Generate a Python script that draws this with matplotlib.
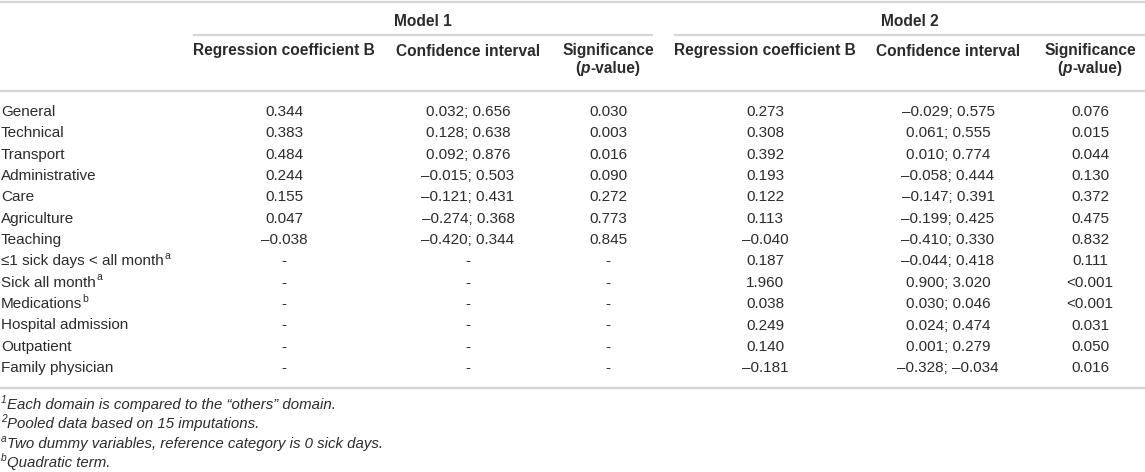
import matplotlib
matplotlib.use("Agg")
import matplotlib.pyplot as plt

# ---------------- data ----------------
row_labels = ["General", "Technical", "Transport", "Administrative", "Care",
              "Agriculture", "Teaching", "\u22641 sick days < all month",
              "Sick all month", "Medications", "Hospital admission",
              "Outpatient", "Family physician"]
row_sups = ["", "", "", "", "", "", "", "a", "a", "b", "", "", ""]

m1_b = ["0.344", "0.383", "0.484", "0.244", "0.155", "0.047", "\u20130.038",
        "-", "-", "-", "-", "-", "-"]
m1_ci = ["0.032; 0.656", "0.128; 0.638", "0.092; 0.876", "\u20130.015; 0.503",
         "\u20130.121; 0.431", "\u20130.274; 0.368", "\u20130.420; 0.344",
         "-", "-", "-", "-", "-", "-"]
m1_p = ["0.030", "0.003", "0.016", "0.090", "0.272", "0.773", "0.845",
        "-", "-", "-", "-", "-", "-"]

m2_b = ["0.273", "0.308", "0.392", "0.193", "0.122", "0.113", "\u20130.040",
        "0.187", "1.960", "0.038", "0.249", "0.140", "\u20130.181"]
m2_ci = ["\u20130.029; 0.575", "0.061; 0.555", "0.010; 0.774", "\u20130.058; 0.444",
         "\u20130.147; 0.391", "\u20130.199; 0.425", "\u20130.410; 0.330",
         "\u20130.044; 0.418", "0.900; 3.020", "0.030; 0.046", "0.024; 0.474",
         "0.001; 0.279", "\u20130.328; \u20130.034"]
m2_p = ["0.076", "0.015", "0.044", "0.130", "0.372", "0.475", "0.832",
        "0.111", "<0.001", "<0.001", "0.031", "0.050", "0.016"]

model_titles = ["Model 1", "Model 2"]
col_headers = ["Regression coefficient B", "Confidence interval", "Significance"]

footnote_sups = ["1", "2", "a", "b"]
footnotes = ["Each domain is compared to the \u201cothers\u201d domain.",
             "Pooled data based on 15 imputations.",
             "Two dummy variables, reference category is 0 sick days.",
             "Quadratic term."]

# ---------------- layout ----------------
W, H = 1145, 472
FAM = ["Liberation Sans", "DejaVu Sans"]
TXT = "#2b2b2b"
LINE = "#d4d4d4"
FS = 11.0
FS_H = 11.2
FS_F = 10.8

fig = plt.figure(figsize=(W / 100, H / 100), dpi=100)
ax = fig.add_axes([0, 0, 1, 1])
ax.set_xlim(0, W)
ax.set_ylim(H, 0)
ax.axis("off")
renderer = fig.canvas.get_renderer()
inv = ax.transData.inverted()


def width_data(t):
    bb = t.get_window_extent(renderer)
    (x0, _), (x1, _) = inv.transform([(bb.x0, 0), (bb.x1, 0)])
    return x1 - x0


def hline(x0, x1, y, lw=1.6):
    ax.plot([x0, x1], [y, y], color=LINE, lw=lw, solid_capstyle="butt")


def with_sup(x, y, main, sup, size, style="normal"):
    t = ax.text(x, y, main, ha="left", va="center", fontsize=size,
                family=FAM, color=TXT, style=style)
    if sup:
        w = width_data(t)
        ax.text(x + w + 0.5, y - 5.5, sup, ha="left", va="center",
                fontsize=size * 0.68, family=FAM, color=TXT, style=style)


# rules
hline(0, W, 1.5)
hline(193, 653, 34.5)
hline(674, W, 34.5)
hline(0, W, 91)
hline(0, W, 387.5)

# model titles
model_spans = [(193, 653), (674, W)]
for title, (a, b) in zip(model_titles, model_spans):
    ax.text((a + b) / 2, 21, title, ha="center", va="center", fontsize=FS_H,
            family=FAM, color=TXT, weight="bold")

col_x = [[284, 468, 608], [765, 948, 1090]]
for xs in col_x:
    for hdr, cx in zip(col_headers, xs):
        ax.text(cx, 51, hdr, ha="center", va="center", fontsize=FS_H,
                family=FAM, color=TXT, weight="bold")
    # "(p-value)" with italic p
    cx = xs[2]
    parts = [("(", "normal"), ("p", "italic"), ("-value)", "normal")]
    tmp = [ax.text(0, -100, s, fontsize=FS_H, family=FAM, weight="bold",
                   style=st) for s, st in parts]
    ws = [width_data(t) for t in tmp]
    for t in tmp:
        t.remove()
    x = cx - sum(ws) / 2
    for (s, st), w in zip(parts, ws):
        ax.text(x, 68, s, ha="left", va="center", fontsize=FS_H, family=FAM,
                color=TXT, weight="bold", style=st)
        x += w

# body
y0, dy = 112, 21.35
cols = [m1_b, m1_ci, m1_p, m2_b, m2_ci, m2_p]
xs_all = col_x[0] + col_x[1]
for i, lab in enumerate(row_labels):
    y = y0 + i * dy
    with_sup(1, y, lab, row_sups[i], FS)
    for col, cx in zip(cols, xs_all):
        ax.text(cx, y, col[i], ha="center", va="center", fontsize=FS,
                family=FAM, color=TXT)

# footnotes
fy0, fdy = 405, 19.4
for i, (s, note) in enumerate(zip(footnote_sups, footnotes)):
    y = fy0 + i * fdy
    st = ax.text(1, y - 5, s, ha="left", va="center", fontsize=FS_F * 0.68,
                 family=FAM, color=TXT, style="italic")
    w = width_data(st)
    ax.text(1 + w + 0.3, y, note, ha="left", va="center", fontsize=FS_F,
            family=FAM, color=TXT, style="italic")

fig.savefig("out.png", dpi=100)
